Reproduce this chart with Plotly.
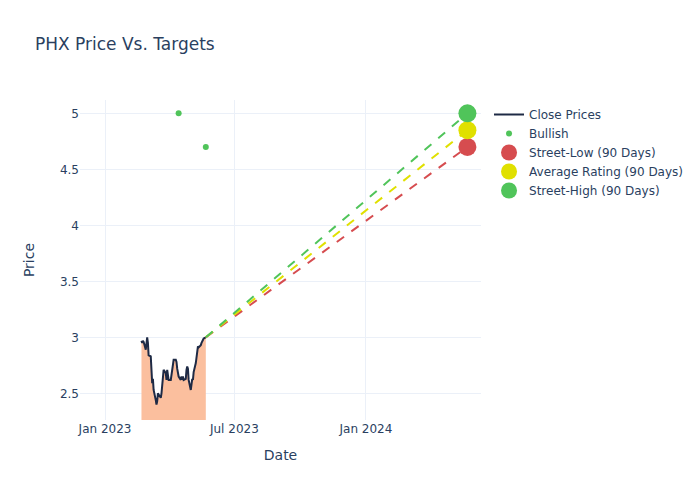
import pandas as pd
import plotly.graph_objects as go

dates = pd.bdate_range("2023-02-21", "2023-05-22")
close = [
    2.97, 2.95, 2.97, 2.96, 2.89, 2.99,
    3.00, 2.95, 2.84, 2.83, 2.63, 2.59, 2.63, 2.53, 2.44, 2.40,
    2.43, 2.50, 2.49, 2.46, 2.50, 2.57, 2.62, 2.71, 2.68, 2.62,
    2.71, 2.65, 2.62,
    2.62, 2.68, 2.74, 2.77, 2.80, 2.80, 2.78, 2.72, 2.68, 2.65,
    2.62, 2.65, 2.62, 2.65, 2.62, 2.63, 2.71, 2.74, 2.72, 2.62,
    2.53, 2.62, 2.63, 2.62, 2.69, 2.77, 2.84, 2.89, 2.92, 2.91,
    2.93, 2.95, 2.97, 2.98, 2.99, 3.00,
]

bullish_dates = ["2023-04-14", "2023-05-22"]
bullish_values = [5.0, 4.7]

target_date = "2024-05-22"
target_names = ["Street-Low (90 Days)", "Average Rating (90 Days)", "Street-High (90 Days)"]
target_values = [4.7, 4.85, 5.0]
target_colors = ["#d64c4f", "#e0e000", "#50c45a"]

fig = go.Figure()

fig.add_trace(go.Scatter(
    x=dates, y=close, mode="lines", showlegend=False, hoverinfo="skip",
    line=dict(width=0, color="#fbbf9e"),
    fill="tozeroy", fillcolor="#fbbf9e",
))
fig.add_trace(go.Scatter(
    x=dates, y=close, mode="lines", name="Close Prices",
    line=dict(color="#1e2a45", width=2),
))

fig.add_trace(go.Scatter(
    x=bullish_dates, y=bullish_values, mode="markers", name="Bullish",
    marker=dict(color="#50c45a", size=6),
))

last_date = dates[-1]
last_close = close[-1]
for name, val, col in zip(target_names, target_values, target_colors):
    fig.add_trace(go.Scatter(
        x=[last_date, target_date], y=[last_close, val], mode="lines",
        line=dict(color=col, dash="dash", width=2), showlegend=False,
        hoverinfo="skip",
    ))
for name, val, col in zip(target_names, target_values, target_colors):
    fig.add_trace(go.Scatter(
        x=[target_date], y=[val], mode="markers", name=name,
        marker=dict(color=col, size=18),
    ))

fig.update_layout(
    template="plotly_white",
    width=700, height=500,
    title=dict(text="PHX Price Vs. Targets"),
    xaxis=dict(title="Date", range=["2022-11-27", "2024-06-10"]),
    yaxis=dict(title=dict(text="Price", standoff=22), range=[2.262, 5.119]),
    font=dict(family="DejaVu Sans, Open Sans, sans-serif"),
)

fig.write_html(
    "out.html",
    config={"displayModeBar": False},
    post_script="document.body.style.margin='0px';",
)
